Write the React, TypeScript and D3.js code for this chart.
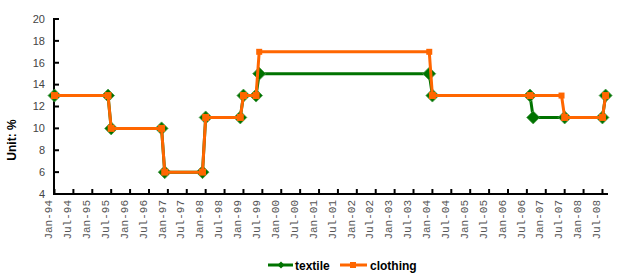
import React from "react";
import * as d3 from "d3";

const tickLabels = [
  "Jan-94","Jul-94","Jan-95","Jul-95","Jan-96","Jul-96","Jan-97","Jul-97","Jan-98","Jul-98",
  "Jan-99","Jul-99","Jan-00","Jul-00","Jan-01","Jul-01","Jan-02","Jul-02","Jan-03","Jul-03",
  "Jan-04","Jul-04","Jan-05","Jul-05","Jan-06","Jul-06","Jan-07","Jul-07","Jan-08","Jul-08",
];
const yTicks = [4, 6, 8, 10, 12, 14, 16, 18, 20];

const textileDates = [
  "1994-01","1995-06","1995-07","1996-11","1996-12","1997-12","1998-01","1998-12","1999-01",
  "1999-05","1999-06","2003-12","2004-01","2006-08","2006-09","2007-07","2008-07","2008-08",
];
const textileValues = [13, 13, 10, 10, 6, 6, 11, 11, 13, 13, 15, 15, 13, 13, 11, 11, 11, 13];

const clothingDates = [
  "1994-01","1995-06","1995-07","1996-11","1996-12","1997-12","1998-01","1998-12","1999-01",
  "1999-05","1999-06","2003-12","2004-01","2006-08","2007-06","2007-07","2008-07","2008-08",
];
const clothingValues = [13, 13, 10, 10, 6, 6, 11, 11, 13, 13, 17, 17, 13, 13, 13, 11, 11, 13];

const monthIndex = (s: string) => {
  const [y, m] = s.split("-").map(Number);
  return (y - 1994) * 12 + (m - 1);
};

const GREEN = "#007300";
const ORANGE = "#FF6600";

export default function App() {
  const W = 641, H = 276;
  const x = d3.scaleLinear().domain([0, 175.6]).range([54.5, 607.5]);
  const y = d3.scaleLinear().domain([4, 20]).range([194, 19]);

  const textile = textileDates.map((d, i) => ({ m: monthIndex(d), v: textileValues[i] }));
  const clothing = clothingDates.map((d, i) => ({ m: monthIndex(d), v: clothingValues[i] }));
  const textileKeys = new Set(textile.map(d => `${d.m}-${d.v}`));

  const line = d3.line<{ m: number; v: number }>().x(d => x(d.m)).y(d => y(d.v));

  const diamond = (cx: number, cy: number, r: number) =>
    `M${cx},${cy - r}L${cx + r},${cy}L${cx},${cy + r}L${cx - r},${cy}Z`;

  return (
    <svg width={W} height={H} style={{ position: "absolute", left: 0, top: 0, background: "#fff" }}>
      <text
        transform="translate(16,140) rotate(-90)"
        textAnchor="middle"
        fontFamily="Liberation Sans, Arial, sans-serif"
        fontWeight="bold"
        fontSize={12}
        fill="#000"
      >
        Unit: %
      </text>

      {yTicks.map(t => (
        <g key={t}>
          <line x1={54} x2={59} y1={y(t)} y2={y(t)} stroke="#000" strokeWidth={2} />
          <text
            x={45}
            y={y(t)}
            dy="0.35em"
            textAnchor="end"
            fontFamily="Liberation Sans, Arial, sans-serif"
            fontSize={11}
            fill="#444"
          >
            {t}
          </text>
        </g>
      ))}

      {tickLabels.map((l, i) => {
        const xx = x(i * 6);
        return (
          <g key={l}>
            <line x1={xx} x2={xx} y1={194} y2={189} stroke="#000" strokeWidth={2} />
            <text
              transform={`translate(${xx + 1},200) rotate(-90)`}
              textAnchor="end"
              dy="-0.3em"
              fontFamily="Liberation Mono, monospace"
              fontSize={11}
              fill="#555"
            >
              {l}
            </text>
          </g>
        );
      })}

      <line x1={54} x2={54} y1={18} y2={195} stroke="#000" strokeWidth={2} />
      <line x1={53} x2={608} y1={194} y2={194} stroke="#000" strokeWidth={2} />

      <path d={line(textile) || ""} fill="none" stroke={GREEN} strokeWidth={3} />
      {textile.map((d, i) => (
        <path key={i} d={diamond(x(d.m), y(d.v), 6.5)} fill={GREEN} stroke="#4a9a4a" strokeWidth={0.8} />
      ))}

      <path d={line(clothing) || ""} fill="none" stroke={ORANGE} strokeWidth={3} />
      {clothing.map((d, i) => {
        const s = textileKeys.has(`${d.m}-${d.v}`) ? 7 : 6;
        return (
          <rect key={i} x={x(d.m) - s / 2} y={y(d.v) - s / 2} width={s} height={s} fill={ORANGE} />
        );
      })}

      <line x1={268} x2={293} y1={265} y2={265} stroke={GREEN} strokeWidth={3} />
      <path d={diamond(281, 265, 3.5)} fill={GREEN} />
      <text x={295} y={269.5} fontFamily="Liberation Sans, Arial, sans-serif" fontWeight="bold" fontSize={12} fill="#000">
        textile
      </text>
      <line x1={340} x2={367} y1={265} y2={265} stroke={ORANGE} strokeWidth={3} />
      <rect x={350} y={262} width={6} height={6} fill={ORANGE} />
      <text x={370} y={269.5} fontFamily="Liberation Sans, Arial, sans-serif" fontWeight="bold" fontSize={12} fill="#000">
        clothing
      </text>
    </svg>
  );
}
